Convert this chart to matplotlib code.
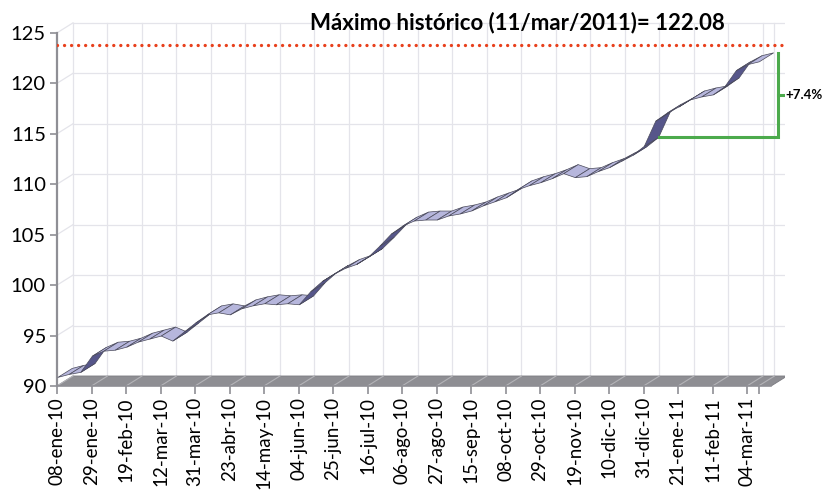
import matplotlib

matplotlib.use("Agg")
import matplotlib.pyplot as plt
from matplotlib.patches import Polygon

# weekly index values, 08-ene-10 .. 11-mar-11
values = [
    90.8, 91.1, 91.3, 92.9, 93.4, 93.5, 93.8, 94.3, 94.6, 94.9,
    94.4, 95.3, 96.2, 97.0, 97.2, 97.0, 97.6, 97.9, 98.1, 98.0,
    98.1, 98.0, 99.3, 100.3, 101.0, 101.6, 102.0, 102.7, 103.8, 105.0,
    105.8, 106.3, 106.4, 106.4, 106.8, 107.0, 107.3, 107.8, 108.2, 108.6,
    109.4, 109.8, 110.1, 110.5, 111.0, 110.6, 110.7, 111.2, 111.6, 112.2,
    112.8, 113.7, 116.2, 117.0, 117.6, 118.3, 118.6, 118.8, 119.6, 121.2,
    121.8, 122.08,
]
tick_labels = [
    "08-ene-10", "29-ene-10", "19-feb-10", "12-mar-10", "31-mar-10",
    "23-abr-10", "14-may-10", "04-jun-10", "25-jun-10", "16-jul-10",
    "06-ago-10", "27-ago-10", "15-sep-10", "08-oct-10", "29-oct-10",
    "19-nov-10", "10-dic-10", "31-dic-10", "21-ene-11", "11-feb-11",
    "04-mar-11",
]
y_ticks = [90, 95, 100, 105, 110, 115, 120, 125]
max_label = "Máximo histórico (11/mar/2011)= 122.08"
max_line = 123.8
base_idx = 51  # 31-dic-10, start of the +7.4% bracket

plt.rcParams["font.family"] = ["Lato", "DejaVu Sans"]

# oblique depth offset (in data units) of the back wall
DX, DY = 1.39, 0.99
D0, D1 = 0.05, 0.95  # ribbon spans this part of the depth
n = len(values)
x_end = n + 0.1

fig = plt.figure(figsize=(8.26, 4.91), dpi=100)
ax = fig.add_axes([57 / 826, 105 / 491, 728 / 826, 366 / 491])
ax.set_xlim(0, 728 / 11.5)
ax.set_ylim(90, 90 + 366 / 10.09)
for s in ["top", "right", "bottom"]:
    ax.spines[s].set_visible(False)
ax.spines["left"].set_bounds(90, 125)
ax.spines["left"].set_color("#8f8f95")
ax.spines["left"].set_linewidth(1.6)

# back wall and side wall gridlines
grid_kw = dict(color="#e4e4ea", lw=0.9, zorder=0)
for v in y_ticks:
    ax.plot([DX, x_end + DX], [v + DY, v + DY], **grid_kw)
    ax.plot([0, DX], [v, v + DY], **grid_kw)
tick_pos = list(range(0, n, 3)) + [n - 1]
for t in tick_pos:
    ax.plot([t + DX, t + DX], [90 + DY, 125 + DY], **grid_kw)

# floor
floor = Polygon([(0, 90), (x_end, 90), (x_end + DX, 90 + DY), (DX, 90 + DY)],
                closed=True, fc="#8e8e93", ec="#7a7a80", lw=0.6, zorder=1)
ax.add_patch(floor)
for t in tick_pos:
    ax.plot([t, t + DX], [90, 90 + DY], color="#b4b4b8", lw=0.8, zorder=2)

# ribbon
for i in range(n - 1):
    a, b = values[i], values[i + 1]
    quad = [(i + D0 * DX, a + D0 * DY), (i + 1 + D0 * DX, b + D0 * DY),
            (i + 1 + D1 * DX, b + D1 * DY), (i + D1 * DX, a + D1 * DY)]
    # top face is visible when the segment is flatter than the depth direction
    top = (b - a) < DY / DX
    ax.add_patch(Polygon(quad, closed=True,
                         fc="#b6b6dc" if top else "#56568a",
                         ec="#4a4a5a", lw=0.5, zorder=3))

# record line
ax.plot([0, x_end + DX], [max_line, max_line], color="#e8401c", lw=2.4,
        ls=(0, (0.01, 2.1)), dash_capstyle="round", zorder=4)
ax.text(22.0, max_line + 1.1, max_label, fontsize=16, fontweight="bold",
        va="bottom", ha="left", zorder=5)

# +7.4% bracket
bx = n - 1 + D1 * DX + 0.4
lo = values[base_idx] + D1 * DY
hi = values[-1] + D1 * DY
green = "#4caa4c"
ax.plot([base_idx + D1 * DX, bx, bx], [lo, lo, hi], color=green, lw=2.2,
        zorder=4, solid_joinstyle="miter")
mid = (lo + hi) / 2
ax.plot([bx, bx + 0.5], [mid, mid], color=green, lw=2.2, zorder=4)
pct = (values[-1] / values[base_idx] - 1) * 100
ax.text(bx + 0.6, mid, f"+{pct:.1f}%", fontsize=9.5, fontweight="bold",
        va="center", ha="left", zorder=5)

# axes ticks
ax.set_yticks(y_ticks)
ax.set_yticklabels([str(v) for v in y_ticks], fontsize=14.5)
ax.tick_params(axis="y", direction="out", length=5, width=1.2,
               color="#8f8f95", pad=3)
ax.plot([0, x_end], [90, 90], color="#8f8f95", lw=1.2, zorder=2,
        clip_on=False)
ax.set_xticks(tick_pos)
ax.set_xticklabels(tick_labels + [""], rotation=90, fontsize=13.5)
ax.tick_params(axis="x", direction="out", length=6, width=1.2,
               color="#8f8f95", pad=2)

fig.savefig("out.png", dpi=100)
